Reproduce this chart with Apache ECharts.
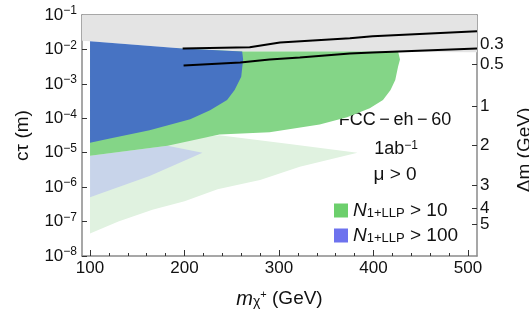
<!DOCTYPE html>
<html><head><meta charset="utf-8">
<script src="https://cdn.jsdelivr.net/npm/echarts@6/dist/echarts.min.js"></script>
<style>html,body{margin:0;padding:0;background:#fff}#c{width:529px;height:320px}</style>
</head><body><div id="c"></div>
<script>
// ---- data ----
const xTicks = [100, 200, 300, 400, 500];
const xMinorTicks = [100,120,140,160,180,200,220,240,260,280,300,320,340,360,380,400,420,440,460,480,500];
const dmLabels = ['0.3','0.5','1','2','3','4','5'];
const dmLogCtau = [-1.84, -2.42, -3.64, -4.78, -5.94, -6.61, -7.07];
const legendNames = ['N>10', 'N>100'];

const grayRegion = [[91.5,1e-1],[509.5,1e-1],[509.5,8.3e-3],[261,8.7e-3],[198,1.07e-2],[100,1.74e-2],[91.5,1.8e-2]];
const paleGreenRegion = [[100,1.15e-5],[237,3.2e-5],[311,1.8e-5],[383,1.0e-5],[322,3.9e-6],[280,1.6e-6],[264,1.3e-6],[235,8.7e-7],[200,3.9e-7],[166,2.2e-7],[130,1.0e-7],[100,4.5e-8]];
const paleBlueRegion = [[100,8.1e-6],[182,1.6e-5],[219,1.0e-5],[163,2.1e-6],[100,5.1e-7]];
const greenRegion = [[100,1.4e-2],[262,8.7e-3],[426,8.7e-3],[428,5.1e-3],[426,3.2e-3],[423,1.3e-3],[418,6.6e-4],[410,3.4e-4],[396,1.95e-4],[372,1.07e-4],[343,6.6e-5],[290,3.9e-5],[237,3.4e-5],[182,1.6e-5],[100,8.1e-6]];
const blueRegion = [[100,1.74e-2],[198,1.07e-2],[261,8.7e-3],[262,5.1e-3],[260,1.6e-3],[253,6.6e-4],[245,3.4e-4],[227,1.7e-4],[206,9.3e-5],[163,4.5e-5],[121,2.6e-5],[100,1.95e-5]];
const upperLine = [[198,1.07e-2],[269,1.15e-2],[301,1.6e-2],[375,2.1e-2],[399,2.4e-2],[509.5,3.4e-2]];
const lowerLine = [[199,3.4e-3],[259,4.2e-3],[290,5.1e-3],[322,5.8e-3],[375,7.6e-3],[399,8.1e-3],[509.5,1.07e-2]];

// ---- chart ----
const FONT = 'Liberation Sans';
const axisGray = '#8a8a8a';
function polySeries(name, pts, fill, legendColor) {
  return {
    type: 'custom', name: name, data: pts, encode: {x: 0, y: 1}, silent: true, clip: true,
    itemStyle: {color: legendColor || fill},
    renderItem: function (params, api) {
      if (params.dataIndex !== 0) return null;
      return {type: 'polygon', shape: {points: pts.map(function (p) { return api.coord(p); })},
              style: {fill: fill, stroke: null}};
    }
  };
}
function lineSeries(pts) {
  return {type: 'line', data: pts, symbol: 'none', silent: true, clip: true,
          lineStyle: {color: '#000', width: 2}, z: 5};
}
function dmLabel(v) {
  let best = 0;
  for (let i = 0; i < dmLogCtau.length; i++) {
    if (Math.abs(dmLogCtau[i] - v) < Math.abs(dmLogCtau[best] - v)) best = i;
  }
  return dmLabels[best];
}
const chart = echarts.init(document.getElementById('c'), null, {renderer: 'canvas'});
const xBase = {type: 'value', min: 91.5, max: 509.5, splitLine: {show: false}};
const TS = '\u2009';
const evenDm = dmLogCtau.filter(function (v, i) { return i % 2 === 0; });
const oddDm = dmLogCtau.filter(function (v, i) { return i % 2 === 1; });
const dmAxisLabel = {margin: 3, fontSize: 17, lineHeight: 14, hideOverlap: false,
  color: '#111', fontFamily: FONT, formatter: dmLabel};
chart.setOption({
  animation: false,
  backgroundColor: '#fff',
  textStyle: {fontFamily: FONT},
  grid: {left: 82, right: 52, top: 15, bottom: 64, containLabel: false, outerBoundsMode: 'none'},
  xAxis: [
    Object.assign({}, xBase, {position: 'bottom',
      axisLine: {lineStyle: {color: axisGray, width: 1.5}},
      axisTick: {inside: true, length: 6, customValues: xTicks, lineStyle: {color: '#333'}},
      axisLabel: {customValues: xTicks, margin: 4, fontSize: 17, color: '#111', fontFamily: FONT},
      name: '{i|m}{sub|χ}{sup|+}{t| (GeV)}', nameLocation: 'middle', nameGap: 33,
      nameTextStyle: {rich: {
        i: {fontSize: 20, fontStyle: 'italic', fontFamily: FONT, color: '#111'},
        sub: {fontSize: 14, verticalAlign: 'bottom', fontFamily: FONT, color: '#111', lineHeight: 18},
        sup: {fontSize: 11, verticalAlign: 'top', fontFamily: FONT, color: '#111', lineHeight: 10},
        t: {fontSize: 19, fontFamily: FONT, color: '#111'}}}}),
    Object.assign({}, xBase, {position: 'bottom', axisLine: {show: false},
      axisTick: {inside: true, length: 3, customValues: xMinorTicks, lineStyle: {color: '#333'}},
      axisLabel: {show: false}}),
    Object.assign({}, xBase, {position: 'top',
      axisLine: {lineStyle: {color: axisGray, width: 1.5}},
      axisTick: {inside: true, length: 6, customValues: xTicks, lineStyle: {color: '#333'}},
      axisLabel: {show: false}}),
    Object.assign({}, xBase, {position: 'top', axisLine: {show: false},
      axisTick: {inside: true, length: 3, customValues: xMinorTicks, lineStyle: {color: '#333'}},
      axisLabel: {show: false}})
  ],
  yAxis: [
    {type: 'log', logBase: 10, min: 1e-8, max: 1e-1, position: 'left', splitLine: {show: false},
     axisLine: {show: true, lineStyle: {color: axisGray, width: 1.5}},
     axisTick: {show: true, inside: true, length: 5, lineStyle: {color: '#333'}},
     axisLabel: {margin: 5, formatter: function (v) {
        return '{b|10}{s|−' + (-Math.round(Math.log10(v))) + '}';
      }, rich: {
        b: {fontSize: 17, fontFamily: FONT, color: '#111', lineHeight: 20},
        s: {fontSize: 12, fontFamily: FONT, color: '#111', verticalAlign: 'top', lineHeight: 12}}},
     name: 'cτ (m)', nameLocation: 'middle', nameGap: 50, nameRotate: 90,
     nameTextStyle: {fontSize: 19, fontFamily: FONT, color: '#111'}},
    {type: 'value', min: -8, max: -1, position: 'right', splitLine: {show: false},
     axisLine: {show: true, lineStyle: {color: axisGray, width: 1.5}},
     axisTick: {show: true, inside: true, length: 5, customValues: dmLogCtau, lineStyle: {color: '#333'}},
     axisLabel: Object.assign({customValues: evenDm}, dmAxisLabel)},
    {type: 'value', min: -8, max: -1, position: 'right', splitLine: {show: false},
     axisLine: {show: false}, axisTick: {show: false},
     axisLabel: Object.assign({customValues: oddDm}, dmAxisLabel)}
  ],
  legend: {
    data: legendNames, orient: 'vertical', left: 329, top: 196, itemWidth: 14, itemHeight: 14,
    itemGap: 6, icon: 'rect', selectedMode: false,
    formatter: function (name) {
      return '{i|N}{sub|1+LLP}{t| > ' + (name === legendNames[0] ? '10' : '100') + '}';
    },
    textStyle: {rich: {
      i: {fontSize: 19, fontStyle: 'italic', fontFamily: FONT, color: '#111'},
      sub: {fontSize: 13, verticalAlign: 'bottom', fontFamily: FONT, color: '#111', lineHeight: 15},
      t: {fontSize: 19, fontFamily: FONT, color: '#111'}}}
  },
  graphic: [
    {type: 'text', x: 395, y: 120, style: {text: 'FCC' + TS + '−' + TS + 'eh' + TS + '−' + TS + '60',
      font: '18px "Liberation Sans"', fill: '#111',
      align: 'center', verticalAlign: 'middle', textAlign: 'center', textVerticalAlign: 'middle'}},
    {type: 'text', x: 396, y: 149, style: {text: '1ab{s|−1}', font: '18px "Liberation Sans"', fill: '#111',
      align: 'center', verticalAlign: 'middle', textAlign: 'center', textVerticalAlign: 'middle',
      rich: {s: {fontSize: 12, fontFamily: FONT, verticalAlign: 'top', lineHeight: 12, fill: '#111'}}}},
    {type: 'text', x: 395, y: 175, style: {text: 'μ > 0', font: '19px "Liberation Sans"', fill: '#111',
      align: 'center', verticalAlign: 'middle', textAlign: 'center', textVerticalAlign: 'middle'}},
    {type: 'text', x: 525, y: 150, rotation: Math.PI / 2, style: {text: 'Δm (GeV)', font: '19px "Liberation Sans"',
      fill: '#111', align: 'center', verticalAlign: 'middle', textAlign: 'center', textVerticalAlign: 'middle'}}
  ],
  series: [
    polySeries('gray', grayRegion, '#e4e4e4'),
    polySeries('paleGreen', paleGreenRegion, '#e0f2e0'),
    polySeries('paleBlue', paleBlueRegion, '#c8d4ea'),
    polySeries(legendNames[0], greenRegion, '#84d587', '#6ccf6c'),
    polySeries(legendNames[1], blueRegion, '#4773c3', '#6d72ee'),
    lineSeries(upperLine),
    lineSeries(lowerLine)
  ]
});
</script></body></html>
